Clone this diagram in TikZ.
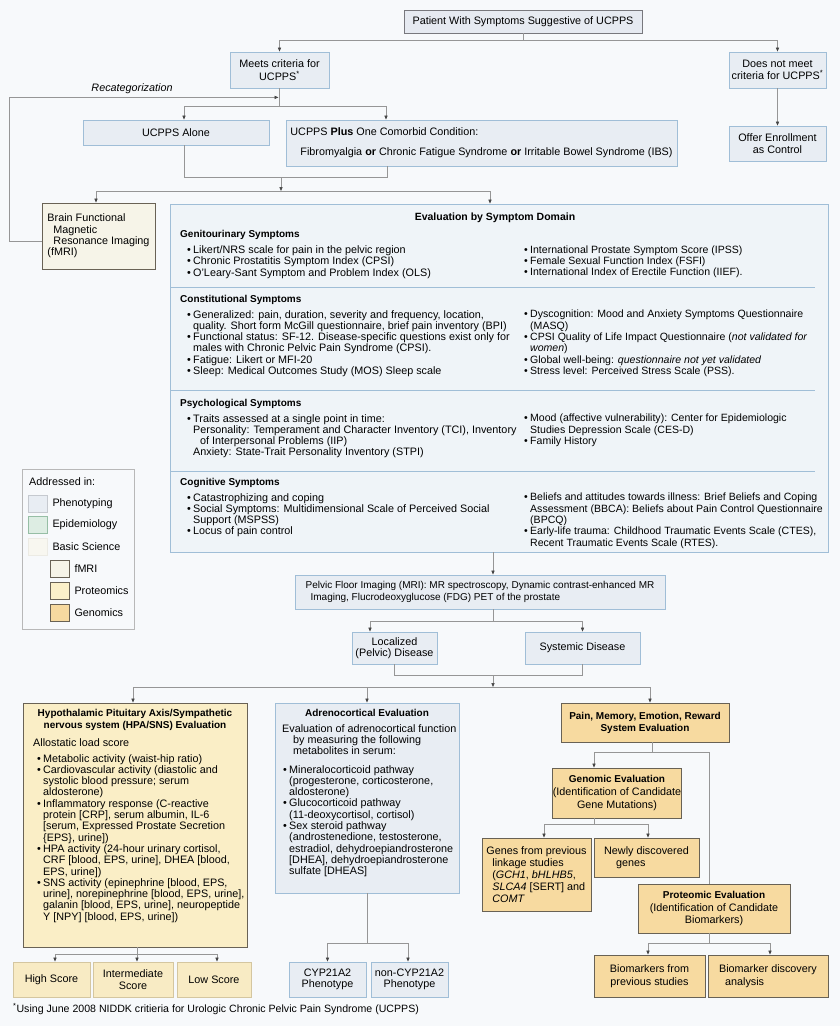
\documentclass[tikz,border=0pt]{standalone}
\usepackage{fontspec}
\setmainfont{Liberation Sans}
\usetikzlibrary{arrows.meta,positioning,calc}
\definecolor{bgcol}{RGB}{247,249,251}
\definecolor{evalfill}{RGB}{239,244,248}
\definecolor{phenofill}{RGB}{232,237,243}
\definecolor{phenoline}{RGB}{160,190,215}
\definecolor{topfill}{RGB}{230,234,241}
\definecolor{topline}{RGB}{120,120,125}
\definecolor{epifill}{RGB}{221,237,227}
\definecolor{epiline}{RGB}{150,190,165}
\definecolor{basicfill}{RGB}{248,247,240}
\definecolor{fmrifill}{RGB}{246,244,232}
\definecolor{hpafill}{RGB}{250,238,198}
\definecolor{protfill}{RGB}{251,240,201}
\definecolor{genfill}{RGB}{247,218,160}
\definecolor{darkline}{RGB}{105,98,85}
\definecolor{scorefill}{RGB}{248,235,196}
\definecolor{scoreline}{RGB}{212,198,160}
\definecolor{connline}{RGB}{150,150,150}
\definecolor{arrowcol}{RGB}{70,70,70}

\newcommand{\bul}{\makebox[6pt][l]{\textbullet}}
\newcommand{\cont}{\hspace*{6pt}}

\begin{document}
\begin{tikzpicture}[x=1pt,y=-1pt,
    every node/.style={inner sep=0pt, font=\fontsize{10.8}{11.3}\selectfont},
    conn/.style={draw=connline, line width=0.7pt},
    arr/.style={conn, -{Triangle[length=4pt,width=3.2pt,color=arrowcol]}},
    pbox/.style={draw=phenoline, fill=phenofill, line width=0.8pt, align=center},
    gbox/.style={draw=darkline, fill=genfill, line width=0.8pt, align=center},
    sbox/.style={draw=scoreline, fill=scorefill, line width=0.8pt, align=center},
    hd/.style={font=\fontsize{10}{11.3}\selectfont\bfseries},
    txt/.style={anchor=north west, align=left},
    rtxt/.style={txt, font=\fontsize{10.55}{11.3}\selectfont},
    swatch/.style={minimum width=19, minimum height=17, line width=0.6pt},
    divline/.style={draw=phenoline, line width=0.8pt}]
    % page
    \fill[bgcol] (0,0) rectangle (840,1026);
    \useasboundingbox (0,0) rectangle (840,1026);

    % Top decision boxes
    \node[draw=topline, fill=topfill, line width=0.8pt, minimum width=238, minimum height=23] (patient) at (523,21.5) {Patient With Symptoms Suggestive of UCPPS};
    \node[pbox, minimum width=99, minimum height=36] (meets) at (279.5,70) {Meets criteria for\\[1.2pt]UCPPS\textsuperscript{*}};
    \node[pbox, minimum width=97, minimum height=36] (nomeet) at (777.5,70) {Does not meet\\[1.2pt]criteria for UCPPS\textsuperscript{*}};
    \node[pbox, minimum width=97, minimum height=35] (offer) at (777.5,143.5) {Offer Enrollment\\as Control};
    \node[pbox, minimum width=186, minimum height=25] (alone) at (176,132.5) {UCPPS Alone};
    \node[pbox, minimum width=391, minimum height=46, align=left] (plus) at (481.5,143)
        {UCPPS \textbf{Plus} One Comorbid Condition:\\[8.7pt]\hspace*{10pt}Fibromyalgia \textbf{or} Chronic Fatigue Syndrome \textbf{or} Irritable Bowel Syndrome (IBS)};

    \coordinate (j1) at (523,40);
    \draw[conn] (patient.south) -- (j1);
    \draw[arr] (j1) -| (meets.north);
    \draw[arr] (j1) -| (nomeet.north);
    \draw[arr] (nomeet.south) -- (offer.north);
    \coordinate (j2) at (279.5,106);
    \draw[conn] (meets.south) -- (j2);
    \draw[arr] (j2) -| ([xshift=8]alone.north);
    \draw[arr] (j2) -| ([xshift=-95.5]plus.north);

    % fMRI box and recategorization loop
    \node[draw=darkline, fill=fmrifill, line width=0.8pt, minimum width=113, minimum height=66, align=left] (brain) at (98.5,236)
        {Brain Functional\\\cont Magnetic\\\cont Resonance Imaging\\(fMRI)};
    \coordinate (rc) at ($(meets.south)+(-1,9)$);
    \draw[arr] ([yshift=-5]brain.west) -- ++(-32,0) |- (rc);
    \node[font=\fontsize{10.8}{12}\selectfont\itshape] (recat) at (132,89) {Recategorization};

    \coordinate (j3) at (281,177);
    \coordinate (j4) at (281,191);
    \draw[conn] ([xshift=8]alone.south) -- ++(0,32) -| ([xshift=-94.5]plus.south);
    \draw[arr] (j3) -- (j4);
    \draw[arr] (j4) -| ([xshift=-2.5]brain.north);

    % Evaluation by symptom domain
    \node[draw=phenoline, fill=evalfill, line width=0.8pt, minimum width=658, minimum height=348] (eval) at (499,378) {};
    \draw[arr] (j4) -| ([xshift=-9]eval.north);
    \node[font=\fontsize{10.5}{12}\selectfont\bfseries] (evtitle) at (495,217.5) {Evaluation by Symptom Domain};
    \foreach \yy in {287,390,471}
        \draw[divline] (170,\yy) -- (815,\yy);

    \node[hd, anchor=north west] (genohd) at (180,230) {Genitourinary Symptoms};
    \node[txt] (genol) at (187,245.5) {\bul Likert/NRS scale for pain in the pelvic region\\
        \bul Chronic Prostatitis Symptom Index (CPSI)\\
        \bul O'Leary-Sant Symptom and Problem Index (OLS)};
    \node[rtxt] (genor) at (524,245.5) {\bul International Prostate Symptom Score (IPSS)\\
        \bul Female Sexual Function Index (FSFI)\\
        \bul International Index of Erectile Function (IIEF).};

    \node[hd, anchor=north west] (consthd) at (180,295) {Constitutional Symptoms};
    \node[txt] (constl) at (187,310) {\bul Generalized: pain, duration, severity and frequency, location,\\
        \cont quality. Short form McGill questionnaire, brief pain inventory (BPI)\\
        \bul Functional status: SF-12. Disease-specific questions exist only for\\
        \cont males with Chronic Pelvic Pain Syndrome (CPSI).\\
        \bul Fatigue: Likert or MFI-20\\
        \bul Sleep: Medical Outcomes Study (MOS) Sleep scale};
    \node[rtxt] (constr) at (524,310) {\bul Dyscognition: Mood and Anxiety Symptoms Questionnaire\\
        \cont (MASQ)\\
        \bul CPSI Quality of Life Impact Questionnaire (\textit{not validated for}\\
        \cont \textit{women})\\
        \bul Global well-being: \textit{questionnaire not yet validated}\\
        \bul Stress level: Perceived Stress Scale (PSS).};

    \node[hd, anchor=north west] (psychhd) at (180,399) {Psychological Symptoms};
    \node[txt] (psychl) at (187,414) {\bul Traits assessed at a single point in time:\\
        \cont Personality: Temperament and Character Inventory (TCI), Inventory\\
        \cont\hspace*{7pt}of Interpersonal Problems (IIP)\\
        \cont Anxiety: State-Trait Personality Inventory (STPI)};
    \node[rtxt] (psychr) at (524,414) {\bul Mood (affective vulnerability): Center for Epidemiologic\\
        \cont Studies Depression Scale (CES-D)\\
        \bul Family History};

    \node[hd, anchor=north west] (cognhd) at (180,478) {Cognitive Symptoms};
    \node[txt] (cognl) at (187,493) {\bul Catastrophizing and coping\\
        \bul Social Symptoms: Multidimensional Scale of Perceived Social\\
        \cont Support (MSPSS)\\
        \bul Locus of pain control};
    \node[rtxt] (cognr) at (524,493) {\bul Beliefs and attitudes towards illness: Brief Beliefs and Coping\\
        \cont Assessment (BBCA): Beliefs about Pain Control Questionnaire\\
        \cont (BPCQ)\\
        \bul Early-life trauma: Childhood Traumatic Events Scale (CTES),\\
        \cont Recent Traumatic Events Scale (RTES).};

    % Legend
    \node[draw=black!28, fill=bgcol, line width=0.6pt, minimum width=112, minimum height=160] (legend) at (78,549) {};
    \node[anchor=west] (legtitle) at (29,481.5) {Addressed in:};
    \node[swatch, fill=phenofill, draw=phenofill!85!black] (sw1) at (37.5,503.5) {};
    \node[swatch, fill=epifill, draw=epiline] (sw2) at (37.5,524.5) {};
    \node[swatch, fill=basicfill, draw=basicfill!95!black] (sw3) at (37.5,546.5) {};
    \node[swatch, fill=fmrifill, draw=darkline] (sw4) at (59.5,568.5) {};
    \node[swatch, fill=protfill, draw=darkline] (sw5) at (59.5,591) {};
    \node[swatch, fill=genfill, draw=darkline] (sw6) at (59.5,613) {};
    \node[right=5 of sw1] {Phenotyping};
    \node[right=5 of sw2] {Epidemiology};
    \node[right=5 of sw3] {Basic Science};
    \node[right=5 of sw4] {fMRI};
    \node[right=5 of sw5] {Proteomics};
    \node[right=5 of sw6] {Genomics};

    % Imaging and disease split
    \node[pbox, minimum width=370, minimum height=34, align=left, font=\fontsize{10}{11.5}\selectfont] (pelvic) at (480,592)
        {Pelvic Floor Imaging (MRI): MR spectroscopy, Dynamic contrast-enhanced MR\\\hspace*{5pt}Imaging, Flucrodeoxyglucose (FDG) PET of the prostate};
    \draw[arr] ([xshift=-6]eval.south) -- ([xshift=-6]eval.south |- pelvic.north);
    \node[pbox, minimum width=85, minimum height=32] (loc) at (394.5,648) {Localized\\(Pelvic) Disease};
    \node[pbox, minimum width=115, minimum height=32] (sys) at (582.5,648) {Systemic Disease};
    \coordinate (j5) at (493,621);
    \draw[conn] ([xshift=13]pelvic.south) -- (j5);
    \draw[arr] (j5) -| ([xshift=-24.5]loc.north);
    \draw[arr] (j5) -| (sys.north);
    \coordinate (j6) at (493,675);
    \coordinate (j7) at (493,687);
    \draw[conn] (loc.south) -- ++(0,11) -| (sys.south);
    \draw[arr] (j6) -- (j7);

    % HPA/SNS branch
    \node[draw=darkline, fill=hpafill, line width=0.8pt, minimum width=224, minimum height=244] (hpa) at (135,825) {};
    \node[hd, anchor=north, align=center] (hpatitle) at (135,709.5) {Hypothalamic Pituitary Axis/Sympathetic\\[0.7pt]nervous system (HPA/SNS) Evaluation};
    \node[txt] (hpaload) at (33,738) {Allostatic load score};
    \node[txt] (hpaitems) at (37,754) {\bul Metabolic activity (waist-hip ratio)\\
        \bul Cardiovascular activity (diastolic and\\
        \cont systolic blood pressure; serum\\
        \cont aldosterone)\\
        \bul Inflammatory response (C-reactive\\
        \cont protein [CRP], serum albumin, IL-6\\
        \cont [serum, Expressed Prostate Secretion\\
        \cont \{EPS\}, urine])\\
        \bul HPA activity (24-hour urinary cortisol,\\
        \cont CRF [blood, EPS, urine], DHEA [blood,\\
        \cont EPS, urine])\\
        \bul SNS activity (epinephrine [blood, EPS,\\
        \cont urine], norepinephrine [blood, EPS, urine],\\
        \cont galanin [blood, EPS, urine], neuropeptide\\
        \cont Y [NPY] [blood, EPS, urine])};
    \draw[arr] (j7) -| ([xshift=-2]hpa.north);
    \node[sbox, minimum width=77, minimum height=35] (high) at (51.5,979.5) {High Score};
    \node[sbox, minimum width=80, minimum height=35] (mid) at (133,979.5) {Intermediate\\Score};
    \node[sbox, minimum width=74, minimum height=35] (low) at (214,979.5) {Low Score};
    \coordinate (j8) at (137,954);
    \draw[conn] (j8 |- hpa.south) -- (j8);
    \draw[arr] (j8) -| ([xshift=3.5]high.north);
    \draw[arr] (j8) -| ([xshift=4]mid.north);
    \draw[arr] (j8) -| ([xshift=3]low.north);

    % Adrenocortical branch
    \node[pbox, minimum width=184, minimum height=190] (adreno) at (367,798) {};
    \node[hd, anchor=north] (adtitle) at (367,709) {Adrenocortical Evaluation};
    \node[txt] (adintro) at (282,724) {Evaluation of adrenocortical function\\
        \hspace*{11pt}by measuring the following\\
        \hspace*{11pt}metabolites in serum:};
    \node[txt] (aditems) at (283,765) {\bul Mineralocorticoid pathway\\
        \cont (progesterone, corticosterone,\\
        \cont aldosterone)\\
        \bul Glucocorticoid pathway\\
        \cont (11-deoxycortisol, cortisol)\\
        \bul Sex steroid pathway\\
        \cont (androstenedione, testosterone,\\
        \cont estradiol, dehydroepiandrosterone\\
        \cont [DHEA], dehydroepiandrosterone\\
        \cont sulfate [DHEAS]};
    \draw[arr] (j7) -| (adreno.north);
    \node[pbox, minimum width=77, minimum height=35] (cypa) at (327.5,979.5) {CYP21A2\\Phenotype};
    \node[pbox, minimum width=77, minimum height=35] (cypb) at (409.5,979.5) {non-CYP21A2\\Phenotype};
    \coordinate (j9) at (367,943);
    \draw[conn] (adreno.south) -- (j9);
    \draw[arr] (j9) -| (cypa.north);
    \draw[arr] (j9) -| ([xshift=-1.5]cypb.north);

    % Pain / genomic / proteomic branch
    \node[gbox, minimum width=168, minimum height=39, hd] (pain) at (645,722.5) {Pain, Memory, Emotion, Reward\\[0.7pt]System Evaluation};
    \draw[arr] (j7) -| ([xshift=5]pain.north);
    \node[gbox, minimum width=112, minimum height=50] (genom) at (617,793) {\textbf{\fontsize{10}{11.3}\selectfont Genomic Evaluation}\\[1.7pt](Identification of Candidate\\[1.7pt]Gene Mutations)};
    \node[gbox, minimum width=152, minimum height=49] (prot) at (714,908.5) {\textbf{\fontsize{10}{11.3}\selectfont Proteomic Evaluation}\\[1.2pt](Identification of Candidate\\[1.2pt]Biomarkers)};
    \coordinate (j10) at (652,752);
    \draw[conn] ([xshift=7]pain.south) -- (j10);
    \draw[arr] (j10) -| ([xshift=-23]genom.north);
    \draw[conn] (j10) -| ([xshift=-5]prot.north);
    \node[gbox, minimum width=109, minimum height=73, align=left] (genes) at (536.5,874.5) {Genes from previous\\[0.7pt]\cont linkage studies\\[0.7pt]\cont (\textit{GCH1}, \textit{bHLHB5},\\[0.7pt]\cont \textit{SLCA4} [SERT] and\\[0.7pt]\cont \textit{COMT}};
    \node[gbox, minimum width=105, minimum height=39, align=left] (newly) at (646.5,857.5) {Newly discovered\\[0.7pt]\hspace*{12pt}genes};
    \coordinate (j11) at (594,824);
    \draw[conn] ([xshift=-23]genom.south) -- (j11);
    \draw[arr] (j11) -| ([xshift=7.5]genes.north);
    \draw[arr] (j11) -| ([xshift=1.5]newly.north);
    \node[gbox, minimum width=111, minimum height=42] (bioa) at (649.5,976) {Biomarkers from\\[1.2pt]previous studies};
    \node[gbox, minimum width=120, minimum height=42, align=left] (biob) at (768,976) {Biomarker discovery\\[1.2pt]\cont analysis};
    \coordinate (j12) at (709,943);
    \draw[conn] ([xshift=-5]prot.south) -- (j12);
    \draw[arr] (j12) -| ([xshift=-1.5]bioa.north);
    \draw[arr] (j12) -| ([xshift=2]biob.north);

    % footnote
    \node[anchor=west, font=\fontsize{10.6}{12}\selectfont] (foot) at (13,1009) {\textsuperscript{*}Using June 2008 NIDDK critieria for Urologic Chronic Pelvic Pain Syndrome (UCPPS)};
\end{tikzpicture}
\end{document}
